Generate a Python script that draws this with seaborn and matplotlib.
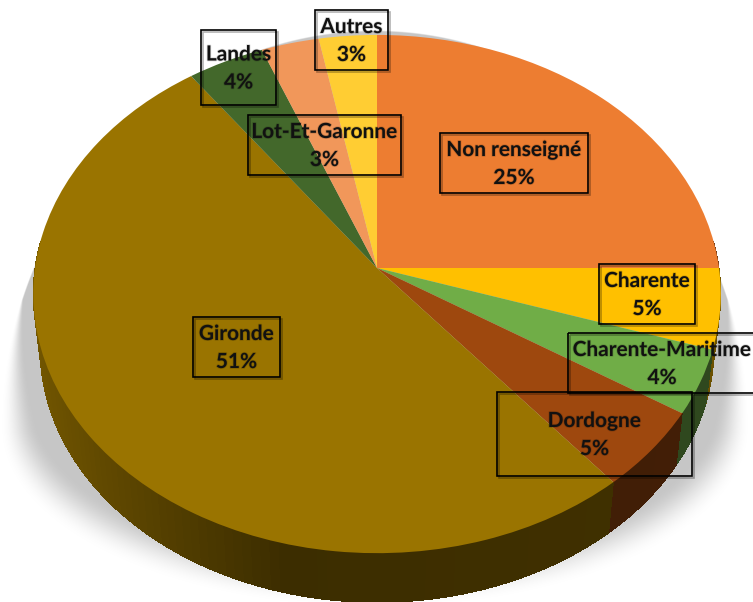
import numpy as np
import seaborn as sns
import matplotlib.pyplot as plt
import matplotlib.patheffects as pe
from matplotlib.patches import Rectangle
from matplotlib.transforms import Transform

# data
departements = ["Non renseigné", "Charente", "Charente-Maritime", "Dordogne",
                "Gironde", "Landes", "Lot-Et-Garonne", "Autres"]
parts = [25, 5, 4, 5, 51, 4, 3, 3]
couleurs = ["#ed7d31", "#ffc000", "#70ad47", "#9e480e",
            "#9a7400", "#43682b", "#f1975a", "#ffcd33"]

# label boxes in pixels: x0, y0, x1, y1
boites = [(440, 133, 588, 193), (599, 264, 695, 324), (568, 333, 756, 393),
          (497, 392, 692, 476), (193, 317, 280, 377), (201, 30, 276, 105),
          (248, 115, 401, 175), (315, 10, 388, 70)]

W, H = 753, 602
CX, CY = 377, 268
RX, RY, K = 342, 256.5, 0.1005
DEPTH, SHRINK = 55, 0.98

sns.set_theme(style="white")
plt.rcParams["font.family"] = ["Lato", "DejaVu Sans"]


class Tilt(Transform):
    # unit circle -> tilted disc in pixels, near edge is bigger
    input_dims = 2
    output_dims = 2

    def __init__(self, drop=0.0, scale=1.0):
        super().__init__()
        self.drop = drop
        self.scale = scale

    def transform_non_affine(self, xy):
        xy = np.asarray(xy, dtype=float)
        w = 1 + K * xy[:, 1]
        x = CX + RX * self.scale * xy[:, 0] / w
        y = CY + self.drop - RY * self.scale * xy[:, 1] / w
        return np.column_stack([x, y])


def draw_shadow(ax):
    xx, yy = np.meshgrid(np.arange(W) + 0.5, np.arange(H) + 0.5)
    b = np.where(yy < 430, 400, 178)
    r = np.sqrt(((xx - 375) / 374) ** 2 + ((yy - 430) / b) ** 2)
    soft = np.interp(yy, [300, 430, 560], [0.005, 0.1, 0.24])
    alpha = np.clip((1 - r) / soft, 0, 1)
    alpha = alpha * alpha * (3 - 2 * alpha)
    img = np.ones((H, W, 4)) * 0.78
    img[..., 3] = alpha
    ax.imshow(img, extent=(0, W, H, 0), aspect="auto", zorder=0)


def draw_side(ax, wedge, color):
    top = Tilt()
    bottom = Tilt(DEPTH, SHRINK)
    rgb = np.array(sns.color_palette([color])[0])
    angles = np.radians(np.arange(wedge.theta1, wedge.theta2 + 1.5, 1.5))
    angles[-1] = min(angles[-1], np.radians(wedge.theta2))
    for a, b in zip(angles[:-1], angles[1:]):
        # the back of the rim is hidden behind the top face
        if np.sin((a + b) / 2) > 0.1:
            continue
        pts = np.array([[np.cos(a), np.sin(a)], [np.cos(b), np.sin(b)]])
        quad = np.vstack([top.transform(pts), bottom.transform(pts)[::-1]])
        shade = np.interp(np.cos((a + b) / 2), [-1, -0.25, 1], [0.75, 0.39, 0.42])
        c = tuple(rgb * shade)
        ax.fill(quad[:, 0], quad[:, 1], color=c, lw=0, antialiased=False, zorder=1)


fig = plt.figure(figsize=(W / 100, H / 100), dpi=100)
ax = fig.add_axes([0, 0, 1, 1])

wedges, _ = ax.pie(parts, colors=couleurs, startangle=90, counterclock=False,
                   wedgeprops={"linewidth": 0})
for wedge, color in zip(wedges, couleurs):
    wedge.set_transform(Tilt() + ax.transData)
    wedge.set_zorder(2)
    draw_side(ax, wedge, color)

draw_shadow(ax)

for name, part, (x0, y0, x1, y1) in zip(departements, parts, boites):
    box = Rectangle((x0, y0), x1 - x0, y1 - y0, fill=False, edgecolor="black",
                    lw=1.2, zorder=3)
    box.set_path_effects([pe.Stroke(offset=(1.2, -1.2), foreground="black", alpha=0.3),
                          pe.Normal()])
    ax.add_patch(box)
    txt = ax.text((x0 + x1) / 2, (y0 + y1) / 2 + 1, f"{name}\n{part}%", ha="center",
                  va="center", fontsize=15, fontweight="bold", color="#111111",
                  linespacing=1.5, zorder=4)
    txt.set_path_effects([pe.withStroke(linewidth=1.2, foreground="black", alpha=0.15)])

ax.set_aspect("auto")
ax.set_xlim(0, W)
ax.set_ylim(H, 0)
ax.axis("off")

fig.savefig("out.png", dpi=100)
